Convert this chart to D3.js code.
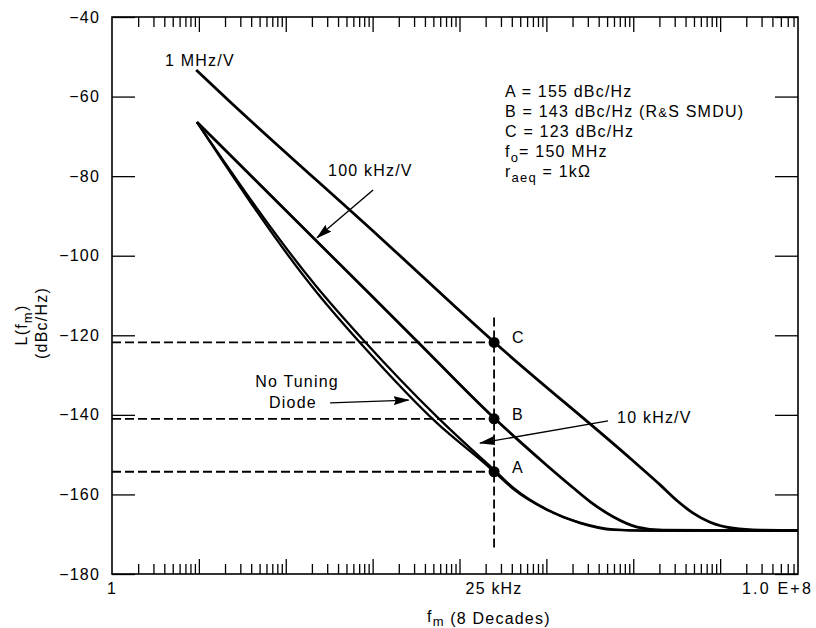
<!DOCTYPE html>
<html>
<head>
<meta charset="utf-8">
<script src="https://cdn.jsdelivr.net/npm/d3@7"></script>
<style>
    body { margin: 0; background: #fff; }
    svg text { font-family: "Liberation Sans", Arial, sans-serif; font-size: 16px; letter-spacing: 1.2px; fill: #000; white-space: pre; }
</style>
</head>
<body>
<svg id="chart" width="816" height="628"></svg>
<script>

// ---- data (f in Hz, L in dBc/Hz) ----

// 1 MHz/V
var f1 = [9.3, 21.1, 1217, 25000, 1000000, 2040000, 3200000, 4890000, 7670000, 14100000, 28800000, 1e8];
var L1 = [-53.3, -60.6, -95.4, -121.7, -151.6, -157.6, -161.6, -164.7, -167.0, -168.5, -169.0, -169.1];

// 100 kHz/V
var f2 = [9.5, 934, 3245, 25000, 50000, 100000, 200000, 318000, 586000, 1110000, 2200000, 1e8];
var L2 = [-66.4, -109.7, -121.5, -140.8, -146.8, -152.6, -158.2, -161.8, -165.6, -168.2, -169.0, -169.1];

// 10 kHz/V and no tuning diode (same frequencies)
var f3 = [9.5, 229, 776, 5520, 22500, 25000, 41400, 102000, 244000, 586000, 1440000, 1e8];
var L3 = [-66.4, -107.9, -121.1, -140.5, -152.9, -153.8, -158.3, -163.8, -167.1, -168.8, -169.1, -169.1];
var L4 = [-66.4, -109.3, -122.7, -142.1, -153.4, -154.3, -158.6, -163.9, -167.2, -168.9, -169.1, -169.1];

// marked points at 25 kHz
var markerF = 25000;
var markerL = [-121.8, -141.0, -154.3];
var markerNames = ["C", "B", "A"];
var markerSpan = [-115.5, -173.5];

// axes
var yTicks = [-40, -60, -80, -100, -120, -140, -160, -180];
var xLabelVals = [1, 25000, 1e8];
var xLabelText = ["1", "25 kHz", "1.0 E+8"];

// legend block, [text, 0 normal / 1 subscript / 2 small]
var legendLines = [
    [["A = 155 dBc/Hz", 0]],
    [["B = 143 dBc/Hz (R", 0], ["&", 2], ["S SMDU)", 0]],
    [["C = 123 dBc/Hz", 0]],
    [["f", 0], ["o", 1], ["= 150 MHz", 0]],
    [["r", 0], ["aeq", 1], [" = 1k\u03A9", 0]]
];

// curve labels and arrows, in data units [f, L]
var curveLabels = [
    {text: "1 MHz/V", at: [4.08, -52.3]},
    {text: "100 kHz/V", at: [307, -80.0]},
    {text: "10 kHz/V", at: [652000, -142.0]}
];
var arrows = [
    {from: [1012, -83.5], to: [229, -95.5]},
    {from: [324, -137.0], to: [2600, -136.3]},
    {from: [513000, -141.5], to: [17200, -147.1]}
];

// ---- drawing ----

var svg = d3.select("#chart");
var left = 112, right = 798;

var x = d3.scaleLog().domain([1, 1e8]).range([left, 807]);
var y = d3.scaleLinear().domain([-40, -180]).range([17, 574]);

var defs = svg.append("defs");

defs.append("clipPath").attr("id", "plot")
    .append("rect")
    .attr("x", left).attr("y", y(-40))
    .attr("width", right - left).attr("height", y(-180) - y(-40));

defs.append("marker")
    .attr("id", "head")
    .attr("markerUnits", "userSpaceOnUse")
    .attr("markerWidth", 16).attr("markerHeight", 9)
    .attr("refX", 15).attr("refY", 4.5)
    .attr("orient", "auto")
    .append("path").attr("d", "M0,0L16,4.5L0,9L2,4.5z").attr("fill", "#000");

// y ticks, inside on both sides
svg.append("g")
    .attr("transform", "translate(" + left + ",0)")
    .call(d3.axisLeft(y).tickValues(yTicks).tickSizeInner(-23).tickSizeOuter(0).tickPadding(12))
    .call(function (g) { g.select(".domain").remove(); });

svg.append("g")
    .attr("transform", "translate(" + right + ",0)")
    .call(d3.axisRight(y).tickValues(yTicks).tickSizeInner(-23).tickSizeOuter(0).tickFormat(""))
    .call(function (g) { g.select(".domain").remove(); });

// x ticks: log decades, top and bottom
var minorTicks = [], majorTicks = [];
d3.range(0, 8).forEach(function (k) {
    d3.range(2, 10).forEach(function (m) {
        var v = m * Math.pow(10, k);
        if (x(v) < right - 2) minorTicks.push(v);
    });
    if (k > 0) majorTicks.push(Math.pow(10, k));
});

[[minorTicks, 10], [majorTicks, 15]].forEach(function (t) {
    svg.append("g")
        .attr("transform", "translate(0," + y(-180) + ")")
        .call(d3.axisBottom(x).tickValues(t[0]).tickSizeInner(-t[1]).tickSizeOuter(0).tickFormat(""))
        .call(function (g) { g.select(".domain").remove(); });
    svg.append("g")
        .attr("transform", "translate(0," + y(-40) + ")")
        .call(d3.axisTop(x).tickValues(t[0]).tickSizeInner(-t[1]).tickSizeOuter(0).tickFormat(""))
        .call(function (g) { g.select(".domain").remove(); });
});

svg.selectAll(".tick line").attr("stroke-width", 1.3);

svg.selectAll(".xlab")
    .data(xLabelVals)
    .enter().append("text")
    .attr("class", "xlab")
    .attr("x", function (d, i) { return i === 2 ? x(d) + 6 : x(d); })
    .attr("y", 594)
    .attr("text-anchor", function (d, i) { return i === 2 ? "end" : "middle"; })
    .style("letter-spacing", function (d, i) { return i === 2 ? "2.2px" : null; })
    .text(function (d, i) { return xLabelText[i]; });

// frame
svg.append("rect")
    .attr("x", left).attr("y", y(-40))
    .attr("width", right - left).attr("height", y(-180) - y(-40))
    .attr("fill", "none").attr("stroke", "#000").attr("stroke-width", 1.6);

// dashed guides
var guides = svg.append("g")
    .attr("stroke", "#000").attr("stroke-width", 1.8).attr("stroke-dasharray", "9,4");

guides.selectAll("line.h")
    .data(markerL)
    .enter().append("line")
    .attr("class", "h")
    .attr("x1", x(1)).attr("x2", x(markerF))
    .attr("y1", function (d) { return y(d); })
    .attr("y2", function (d) { return y(d); });

guides.append("line")
    .attr("x1", x(markerF)).attr("x2", x(markerF))
    .attr("y1", y(markerSpan[0])).attr("y2", y(markerSpan[1]));

// curves
var line = d3.line()
    .x(function (d) { return x(d[0]); })
    .y(function (d) { return y(d[1]); })
    .curve(d3.curveMonotoneX);

var series = [d3.zip(f1, L1), d3.zip(f2, L2), d3.zip(f3, L3), d3.zip(f3, L4)];
var widths = [2.8, 2.8, 2.3, 2.3];

svg.append("g")
    .attr("clip-path", "url(#plot)")
    .selectAll("path")
    .data(series)
    .enter().append("path")
    .attr("d", line)
    .attr("fill", "none")
    .attr("stroke", "#000")
    .attr("stroke-width", function (d, i) { return widths[i]; })
    .attr("stroke-linejoin", "round");

// marked points
svg.selectAll("circle.mark")
    .data(markerL)
    .enter().append("circle")
    .attr("class", "mark")
    .attr("cx", x(markerF))
    .attr("cy", function (d) { return y(d); })
    .attr("r", 5.5)
    .attr("fill", "#000");

svg.selectAll("text.mark")
    .data(markerL)
    .enter().append("text")
    .attr("class", "mark")
    .attr("x", x(markerF) + 18)
    .attr("y", function (d) { return y(d) + 1; })
    .text(function (d, i) { return markerNames[i]; });

// annotations
svg.selectAll("line.arrow")
    .data(arrows)
    .enter().append("line")
    .attr("class", "arrow")
    .attr("x1", function (d) { return x(d.from[0]); })
    .attr("y1", function (d) { return y(d.from[1]); })
    .attr("x2", function (d) { return x(d.to[0]); })
    .attr("y2", function (d) { return y(d.to[1]); })
    .attr("stroke", "#000")
    .attr("stroke-width", 1.4)
    .attr("marker-end", "url(#head)");

svg.selectAll("text.clabel")
    .data(curveLabels)
    .enter().append("text")
    .attr("class", "clabel")
    .attr("x", function (d) { return x(d.at[0]); })
    .attr("y", function (d) { return y(d.at[1]); })
    .text(function (d) { return d.text; });

svg.append("text")
    .attr("x", x(135)).attr("y", y(-133.0))
    .attr("text-anchor", "middle")
    .text("No Tuning");
svg.append("text")
    .attr("x", x(121)).attr("y", y(-138.3))
    .attr("text-anchor", "middle")
    .text("Diode");

// legend block
legendLines.forEach(function (segs, i) {
    var t = svg.append("text").attr("x", 505).attr("y", 97 + i * 20);
    var shift = 0;
    segs.forEach(function (s) {
        var target = s[1] === 1 ? 5 : 0;
        t.append("tspan")
            .attr("dy", target - shift)
            .style("font-size", s[1] === 0 ? null : "13px")
            .text(s[0]);
        shift = target;
    });
});

// axis titles
var yt1 = svg.append("text")
    .attr("transform", "translate(27,325) rotate(-90)")
    .attr("text-anchor", "middle");
yt1.append("tspan").text("L(f");
yt1.append("tspan").attr("dy", 5).style("font-size", "13px").text("m");
yt1.append("tspan").attr("dy", -5).text(")");

svg.append("text")
    .attr("transform", "translate(47,323) rotate(-90)")
    .attr("text-anchor", "middle")
    .text("(dBc/Hz)");

var xt = svg.append("text")
    .attr("x", 427).attr("y", 622);
xt.append("tspan").text("f");
xt.append("tspan").attr("dy", 4).style("font-size", "13px").text("m");
xt.append("tspan").attr("dy", -2).text(" (8 Decades)");

</script>
</body>
</html>
